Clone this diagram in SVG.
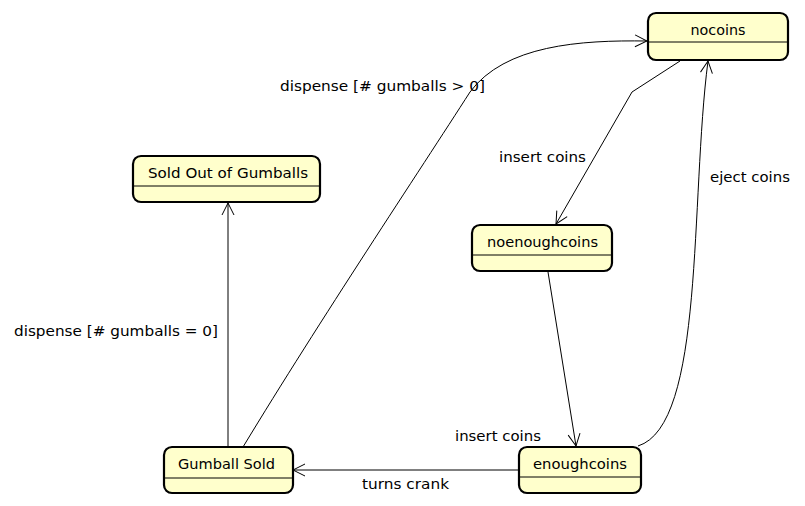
<svg xmlns="http://www.w3.org/2000/svg" width="805" height="506" viewBox="0 0 805 506">
<style>
.box{fill:#FFFFCC;stroke:#000;stroke-width:2.2}
.div{stroke:#000;stroke-width:1}
.t{font-family:"DejaVu Sans",sans-serif;font-size:14.5px;fill:#000}
.c{text-anchor:middle}
.e{fill:none;stroke:#000;stroke-width:1}
</style>
<defs>
<marker id="a" markerWidth="14" markerHeight="14" refX="13" refY="7" orient="auto" markerUnits="userSpaceOnUse">
<path d="M1,1 L13,7 L1,13" fill="none" stroke="#000" stroke-width="1"/>
</marker>
</defs>
<rect width="805" height="506" fill="#fff"/>
<g id="edges">
<path class="e" d="M680,61 L632,92 L556,224" marker-end="url(#a)"/>
<path class="e" d="M548,272 L576,446" marker-end="url(#a)"/>
<path class="e" d="M638,446 C705,425 690,200 708,61" marker-end="url(#a)"/>
<path class="e" d="M518,470 L293,470" marker-end="url(#a)"/>
<path class="e" d="M228,447 L228,203" marker-end="url(#a)"/>
<path class="e" d="M243,447 C320,320 420,170 470,92 C505,45 580,40 647,41" marker-end="url(#a)"/>
<text class="t" x="280" y="91" textLength="205" lengthAdjust="spacingAndGlyphs">dispense [# gumballs &gt; 0]</text>
<text class="t" x="499" y="162" textLength="87" lengthAdjust="spacingAndGlyphs">insert coins</text>
<text class="t" x="710" y="182" textLength="80" lengthAdjust="spacingAndGlyphs">eject coins</text>
<text class="t" x="14" y="336" textLength="204" lengthAdjust="spacingAndGlyphs">dispense [# gumballs = 0]</text>
<text class="t" x="455" y="441" textLength="86" lengthAdjust="spacingAndGlyphs">insert coins</text>
<text class="t" x="362" y="489" textLength="87" lengthAdjust="spacingAndGlyphs">turns crank</text>
</g>
<g id="nocoins">
<rect class="box" x="648" y="13" width="140" height="47" rx="8"/>
<line class="div" x1="648" y1="42" x2="788" y2="42"/>
<text class="t c" x="718" y="35" textLength="55" lengthAdjust="spacingAndGlyphs">nocoins</text>
</g>
<g id="soldout">
<rect class="box" x="133" y="156" width="187" height="46" rx="8"/>
<line class="div" x1="133" y1="186" x2="320" y2="186"/>
<text class="t c" x="228" y="178" textLength="160" lengthAdjust="spacingAndGlyphs">Sold Out of Gumballs</text>
</g>
<g id="noenoughcoins">
<rect class="box" x="472" y="225" width="140" height="46" rx="8"/>
<line class="div" x1="472" y1="255" x2="612" y2="255"/>
<text class="t c" x="542.5" y="247" textLength="111" lengthAdjust="spacingAndGlyphs">noenoughcoins</text>
</g>
<g id="gumballsold">
<rect class="box" x="164" y="447" width="129" height="46" rx="8"/>
<line class="div" x1="164" y1="478" x2="293" y2="478"/>
<text class="t c" x="226.5" y="469" textLength="97" lengthAdjust="spacingAndGlyphs">Gumball Sold</text>
</g>
<g id="enoughcoins">
<rect class="box" x="519" y="447" width="122" height="46" rx="8"/>
<line class="div" x1="519" y1="477" x2="641" y2="477"/>
<text class="t c" x="580" y="469" textLength="94" lengthAdjust="spacingAndGlyphs">enoughcoins</text>
</g>
</svg>
